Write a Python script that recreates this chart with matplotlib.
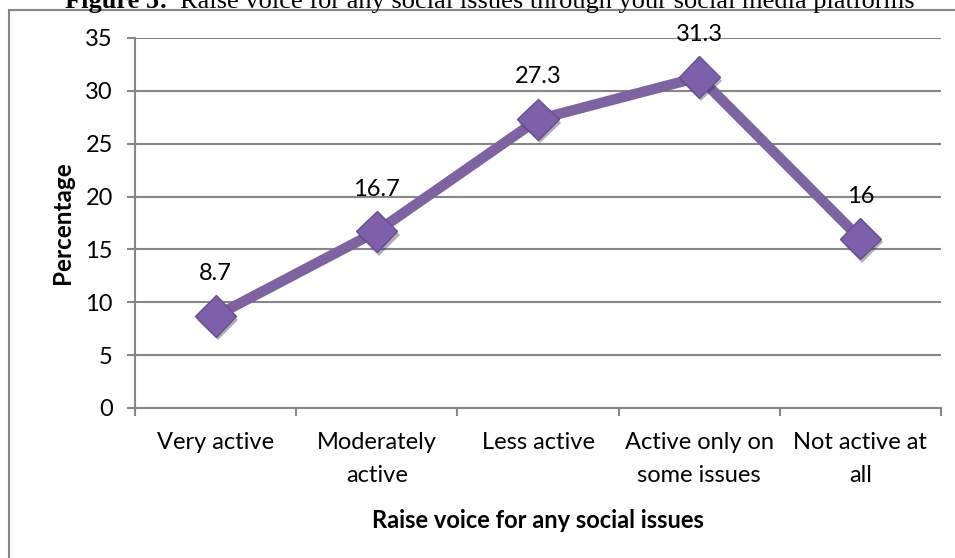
import matplotlib.pyplot as plt
import matplotlib.patheffects as pe
from matplotlib.patches import Rectangle

# data
categories = ['Very active', 'Moderately\nactive', 'Less active',
              'Active only on\nsome issues', 'Not active at\nall']
percentages = [8.7, 16.7, 27.3, 31.3, 16]
yticks = [0, 5, 10, 15, 20, 25, 30, 35]

plt.rcParams['font.family'] = ['Lato', 'DejaVu Sans']
grey = '#868686'
purple = '#7F62A0'
fs = 17

fig = plt.figure(figsize=(9.55, 5.58), dpi=100)
W, H = 955, 558
ax = fig.add_axes([135 / W, 1 - 408 / H, (941 - 135) / W, (408 - 38) / H])

# outer chart frame (partly cut off)
fig.patches.append(Rectangle((9 / W, -0.1), 1.2, 1 - 10 / H + 0.1,
                             transform=fig.transFigure, fill=False,
                             edgecolor=grey, linewidth=1.5))

x = list(range(len(categories)))
ax.plot(x, percentages, color=purple, linewidth=7.5, solid_capstyle='round',
        zorder=3)
ax.plot(x, percentages, linestyle='none', marker='D', markersize=21,
        markerfacecolor='#7E5FA9', markeredgecolor='#6A4C93',
        markeredgewidth=1, zorder=4,
        path_effects=[pe.SimplePatchShadow(offset=(1.5, -2.5), alpha=0.35),
                      pe.Normal()])
for xi, v in zip(x, percentages):
    ax.annotate(f'{v:g}', (xi, v), xytext=(0, 23), textcoords='offset points',
                ha='center', va='bottom', fontsize=fs)

ax.set_xlim(-0.5, len(categories) - 0.5)
ax.set_ylim(0, 35)
ax.set_yticks(yticks)
ax.set_xticks(x)
ax.set_xticklabels(categories, fontsize=fs, linespacing=1.75)
ax.set_xticks([i - 0.5 for i in range(len(categories) + 1)], minor=True)
ax.tick_params(axis='x', which='major', length=0, pad=17)
ax.tick_params(axis='x', which='minor', length=6, color=grey, width=1.5)
ax.tick_params(axis='y', length=6, color=grey, width=1.5, labelsize=fs, pad=10)
ax.yaxis.grid(True, color=grey, linewidth=1.5)
ax.set_axisbelow(True)
for s in ['top', 'right']:
    ax.spines[s].set_visible(False)
for s in ['left', 'bottom']:
    ax.spines[s].set_color(grey)
    ax.spines[s].set_linewidth(1.5)

ax.set_ylabel('Percentage', fontsize=17.5, fontweight='bold', va='center')
ax.yaxis.set_label_coords((62 - 135) / 806, 0.5)
ax.set_xlabel('Raise voice for any social issues', fontsize=fs,
              fontweight='bold', va='center')
ax.xaxis.set_label_coords(0.5, -(520 - 408) / 370)

# title, clipped at the top of the image
fig.text(65 / W, 1 - 8 / H, 'Figure 5:', ha='left', va='baseline',
         fontsize=19, fontweight='bold', family='Liberation Serif')
fig.text(915 / W, 1 - 8 / H,
         'Raise voice for any social issues through your social media platforms',
         ha='right', va='baseline', fontsize=19, family='Liberation Serif')

fig.savefig('out.png', dpi=100)
